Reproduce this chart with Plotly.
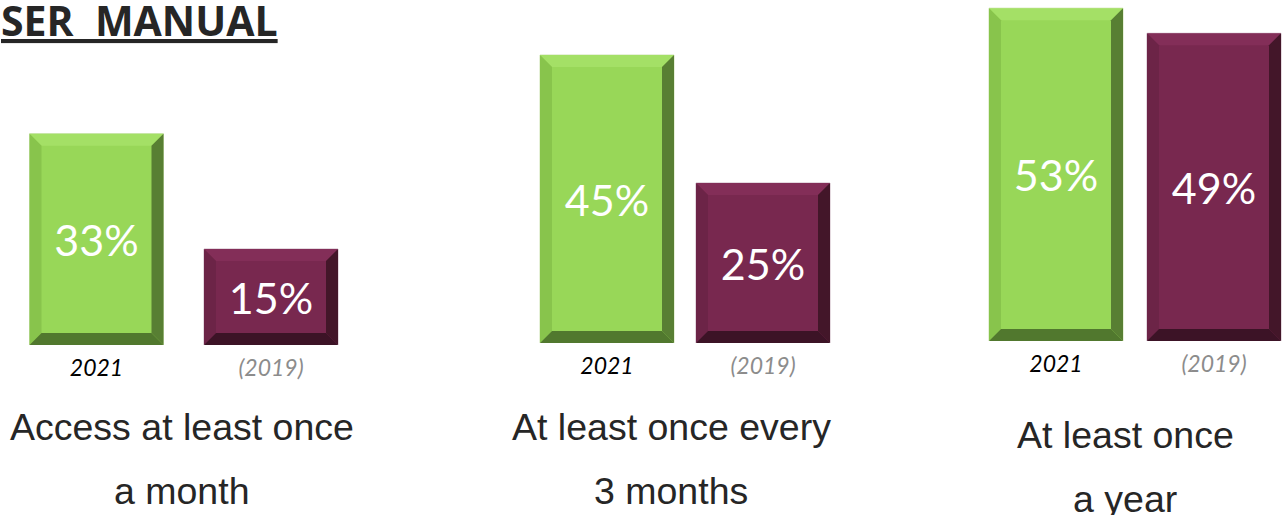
import plotly.graph_objects as go

# ---- data ----
groups = ["Access at least once<br>a month", "At least once every<br>3 months", "At least once<br>a year"]
years = ["2021", "(2019)"]
values_2021 = [33, 45, 53]
values_2019 = [15, 25, 49]
title_text = "SER&nbsp;&nbsp;MANUAL"

# ---- layout geometry (pixels of 1284x515 canvas) ----
W, H = 1284, 515
centers = [(96.5, 271.0), (607.0, 763.0), (1056.0, 1214.0)]
bottoms = [345, 343, 341]
scales = [6.4, 6.4, 6.28]          # px per percentage point
label_y = [(427, 491), (427, 491), (435, 499)]
label_x = [182, 671, 1125]
K = 0.44
BAR_PX = 134
BEV = 12

green = dict(face="#98d758", top="#a4e066", left="#88c44c", right="#587f33", bottom="#51782e", line="#cfe3b4")
purple = dict(face="#78284f", top="#832e58", left="#6c2447", right="#431629", bottom="#3c1326", line="#c9b3c0")

fig = go.Figure()
shapes = []
for g in range(3):
    c0, c1 = centers[g]
    d = c1 - c0
    xd = [(c0 - K * d) / W, min((c1 + K * d) / W, 1.0)]
    ybot = (H - bottoms[g]) / H
    yrange_top = bottoms[g] / scales[g]
    bw = BAR_PX / d
    sfx = "" if g == 0 else str(g + 1)
    xa, ya = "x" + sfx, "y" + sfx
    vals = [values_2021[g], values_2019[g]]
    cols = [green, purple]
    fig.add_trace(go.Bar(
        x=years, y=vals, width=[bw, bw], xaxis=xa, yaxis=ya,
        marker=dict(color=[c["face"] for c in cols],
                    line=dict(color=[c["line"] for c in cols], width=1)),
        text=[f"{v}%" for v in vals], textposition="inside", insidetextanchor="middle",
        textangle=0, textfont=dict(family="Lato", size=43, color="white"),
        hoverinfo="skip", showlegend=False, cliponaxis=False,
    ))
    fig.update_layout(**{
        ("xaxis" + sfx): dict(domain=xd, range=[-K, 1 + K], type="category",
                              showgrid=False, zeroline=False, showline=False, ticks="",
                              tickvals=years,
                              ticktext=["<i>2021</i>", "<span style='color:#8c8c8c'><i>(2019)</i></span>"],
                              tickfont=dict(family="Lato", size=23, color="#000000"),
                              ticklabelstandoff=7, anchor=ya, fixedrange=True),
        ("yaxis" + sfx): dict(domain=[ybot, 1], range=[0, yrange_top], visible=False,
                              anchor=xa, fixedrange=True),
    })
    # bevel shapes derived from the bar values
    bx = BEV / d
    by = BEV / scales[g]
    for i, v in enumerate(vals):
        L, R = i - bw / 2, i + bw / 2
        c = cols[i]
        polys = {
            "top": [(L, v), (R, v), (R - bx, v - by), (L + bx, v - by)],
            "left": [(L, 0), (L, v), (L + bx, v - by), (L + bx, by)],
            "right": [(R, 0), (R, v), (R - bx, v - by), (R - bx, by)],
            "bottom": [(L, 0), (R, 0), (R - bx, by), (L + bx, by)],
        }
        for k, pts in polys.items():
            path = "M " + " L ".join(f"{px},{py}" for px, py in pts) + " Z"
            shapes.append(dict(type="path", path=path, xref=xa, yref=ya,
                               fillcolor=c[k], line=dict(width=0), layer="above"))

annotations = []
for g in range(3):
    lines = groups[g].split("<br>")
    for j, ln in enumerate(lines):
        annotations.append(dict(text=ln, x=label_x[g] / W, y=1 - label_y[g][j] / H,
                                xref="paper", yref="paper", xanchor="center", yanchor="middle",
                                showarrow=False,
                                font=dict(family="Liberation Sans", size=37.5, color="#262626")))
annotations.append(dict(text="<b>" + title_text + "</b>", x=-0.001, y=1 - 20 / H, xref="paper", yref="paper",
                        xanchor="left", yanchor="middle", showarrow=False,
                        font=dict(family="Open Sans", size=41, color="#262626", lineposition="under")))

fig.update_layout(width=W, height=H, margin=dict(l=0, r=0, t=0, b=0, autoexpand=False),
                  paper_bgcolor="white", plot_bgcolor="white",
                  shapes=shapes, annotations=annotations, barmode="group",
                  uniformtext=dict(minsize=10, mode="show"))
fig.write_html("out.html", config={"displayModeBar": False},
               post_script="document.body.style.margin='0';")
